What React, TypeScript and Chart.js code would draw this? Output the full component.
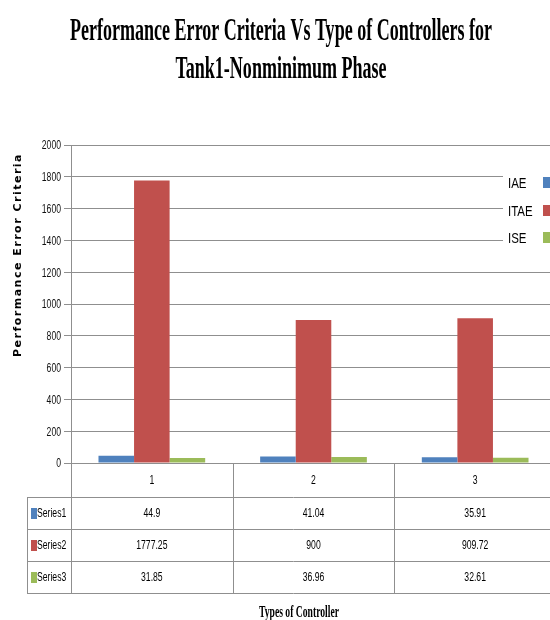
import React, { useEffect, useRef } from "react";
import { Chart, registerables } from "chart.js";

Chart.register(...registerables);

const categories = ["1", "2", "3"];
const seriesNames = ["IAE", "ITAE", "ISE"];
const tableRowLabels = ["Series1", "Series2", "Series3"];
const iaeValues = [44.9, 41.04, 35.91];
const itaeValues = [1777.25, 900, 909.72];
const iseValues = [31.85, 36.96, 32.61];
const seriesColors = ["#4F81BD", "#C0504D", "#9BBB59"];
const yMin = 0;
const yMax = 2000;
const yStep = 200;
const titleLines = ["Performance Error Criteria Vs Type of Controllers for", "Tank1-Nonminimum Phase"];
const yTitle = "Performance Error Criteria";
const xTitle = "Types of Controller";

const LINE = "#8f8f8f";
const SANS = "'Liberation Sans', Arial, sans-serif";
const NARROW_SX = 0.72;

function squish(ctx: CanvasRenderingContext2D, text: string, x: number, y: number, font: string, sx: number, align: "left" | "center" | "right", baseline: CanvasTextBaseline = "alphabetic") {
  ctx.save();
  ctx.font = font;
  ctx.textBaseline = baseline;
  ctx.textAlign = align;
  ctx.translate(x, y);
  ctx.scale(sx, 1);
  ctx.fillText(text, 0, 0);
  ctx.restore();
}

const decorPlugin = {
  id: "decor",
  afterDraw(chart: any) {
    const ctx: CanvasRenderingContext2D = chart.ctx;
    const area = chart.chartArea;
    const xs = chart.scales.x;
    const ys = chart.scales.y;
    ctx.save();
    ctx.fillStyle = "#000";

    // Title
    const tFont = "bold 32px 'Liberation Serif', 'Times New Roman', serif";
    ctx.font = tFont;
    const w1 = ctx.measureText(titleLines[0]).width;
    const tsx = 422 / w1;
    squish(ctx, titleLines[0], 281, 40, tFont, tsx, "center");
    squish(ctx, titleLines[1], 281, 78, tFont, tsx, "center");

    // Y title
    ctx.save();
    ctx.translate(20.5, 255);
    ctx.rotate(-Math.PI / 2);
    ctx.font = "bold 11px 'DejaVu Sans', Verdana, sans-serif";
    (ctx as any).letterSpacing = "1.5px";
    ctx.textAlign = "center";
    ctx.textBaseline = "alphabetic";
    ctx.fillStyle = "#000";
    ctx.fillText(yTitle, 0, 0);
    ctx.restore();

    // Y tick labels (from the library's scale)
    ctx.fillStyle = "#111";
    ys.ticks.forEach((t: any) => {
      squish(ctx, String(t.value), 61, ys.getPixelForValue(t.value) + 1, "12px " + SANS, NARROW_SX, "right", "middle");
    });

    // X title
    ctx.fillStyle = "#000";
    const xFont = "bold 16px 'Liberation Serif', 'Times New Roman', serif";
    ctx.font = xFont;
    const wx = ctx.measureText(xTitle).width;
    squish(ctx, xTitle, 299, 617, xFont, 80 / wx, "center");

    // Legend
    ctx.fillStyle = "#fff";
    ctx.fillRect(503, 168, 60, 84);
    const legendY = [183, 211, 238];
    seriesNames.forEach((name, i) => {
      ctx.fillStyle = "#000";
      squish(ctx, name, 508, legendY[i] + 1, "14px " + SANS, 0.82, "left", "middle");
      ctx.fillStyle = seriesColors[i];
      ctx.fillRect(543, legendY[i] - 6, 10, 11);
    });

    // Data table
    const tableTop = area.bottom;
    const headBottom = 497;
    const rowH = 32;
    const tableBottom = headBottom + rowH * tableRowLabels.length;
    const tableLeft = 27;
    const right = chart.width;
    const catW = xs.width / categories.length;
    ctx.strokeStyle = LINE;
    ctx.lineWidth = 1;
    ctx.beginPath();
    ctx.moveTo(Math.round(area.left) + 0.5, tableTop);
    ctx.lineTo(Math.round(area.left) + 0.5, tableBottom);
    for (let i = 1; i < categories.length; i++) {
      const x = Math.round(xs.getPixelForValue(i) - catW / 2) + 0.5;
      ctx.moveTo(x, tableTop);
      ctx.lineTo(x, tableBottom);
    }
    ctx.moveTo(tableLeft + 0.5, headBottom);
    ctx.lineTo(tableLeft + 0.5, tableBottom);
    for (let r = 0; r <= tableRowLabels.length; r++) {
      const y = headBottom + r * rowH + 0.5;
      ctx.moveTo(tableLeft, y);
      ctx.lineTo(right, y);
    }
    ctx.stroke();

    ctx.fillStyle = "#000";
    categories.forEach((c, i) => {
      squish(ctx, c, xs.getPixelForValue(i), (tableTop + headBottom) / 2 + 1, "12px " + SANS, NARROW_SX, "center", "middle");
    });
    const data = chart.data.datasets;
    tableRowLabels.forEach((lab, r) => {
      const cy = headBottom + r * rowH + rowH / 2 + 1;
      ctx.fillStyle = seriesColors[r];
      ctx.fillRect(31, cy - 6, 6, 11);
      ctx.fillStyle = "#000";
      squish(ctx, lab, 37, cy, "12px " + SANS, NARROW_SX, "left", "middle");
      data[r].data.forEach((v: number, i: number) => {
        squish(ctx, String(v), xs.getPixelForValue(i), cy, "12px " + SANS, NARROW_SX, "center", "middle");
      });
    });
    ctx.restore();
  },
};

export default function App() {
  const ref = useRef<HTMLCanvasElement | null>(null);
  useEffect(() => {
    document.body.style.margin = "0";
    const canvas = ref.current!;
    const chart = new Chart(canvas, {
      type: "bar",
      data: {
        labels: categories,
        datasets: [
          { label: seriesNames[0], data: iaeValues, backgroundColor: seriesColors[0] },
          { label: seriesNames[1], data: itaeValues, backgroundColor: seriesColors[1] },
          { label: seriesNames[2], data: iseValues, backgroundColor: seriesColors[2] },
        ],
      },
      options: {
        responsive: false,
        animation: false,
        devicePixelRatio: 1,
        layout: { padding: { left: 0, top: 145, right: 4, bottom: 0 } },
        datasets: { bar: { categoryPercentage: 0.66, barPercentage: 1, borderWidth: 0 } },
        plugins: { legend: { display: false }, title: { display: false }, tooltip: { enabled: false } },
        scales: {
          x: {
            grid: { display: false },
            border: { display: true, color: LINE },
            ticks: { display: false },
            afterFit: (s: any) => { s.height = 157; },
          },
          y: {
            min: yMin,
            max: yMax,
            grid: { color: LINE, tickLength: 7 },
            border: { color: LINE },
            ticks: { display: false, stepSize: yStep },
            afterFit: (s: any) => { s.width = 71; },
          },
        },
      },
      plugins: [decorPlugin],
    } as any);
    return () => chart.destroy();
  }, []);
  return (
    <div style={{ width: 550, height: 620, overflow: "hidden", position: "relative", background: "#fff" }}>
      <canvas ref={ref} width={560} height={620} style={{ display: "block" }} />
    </div>
  );
}
